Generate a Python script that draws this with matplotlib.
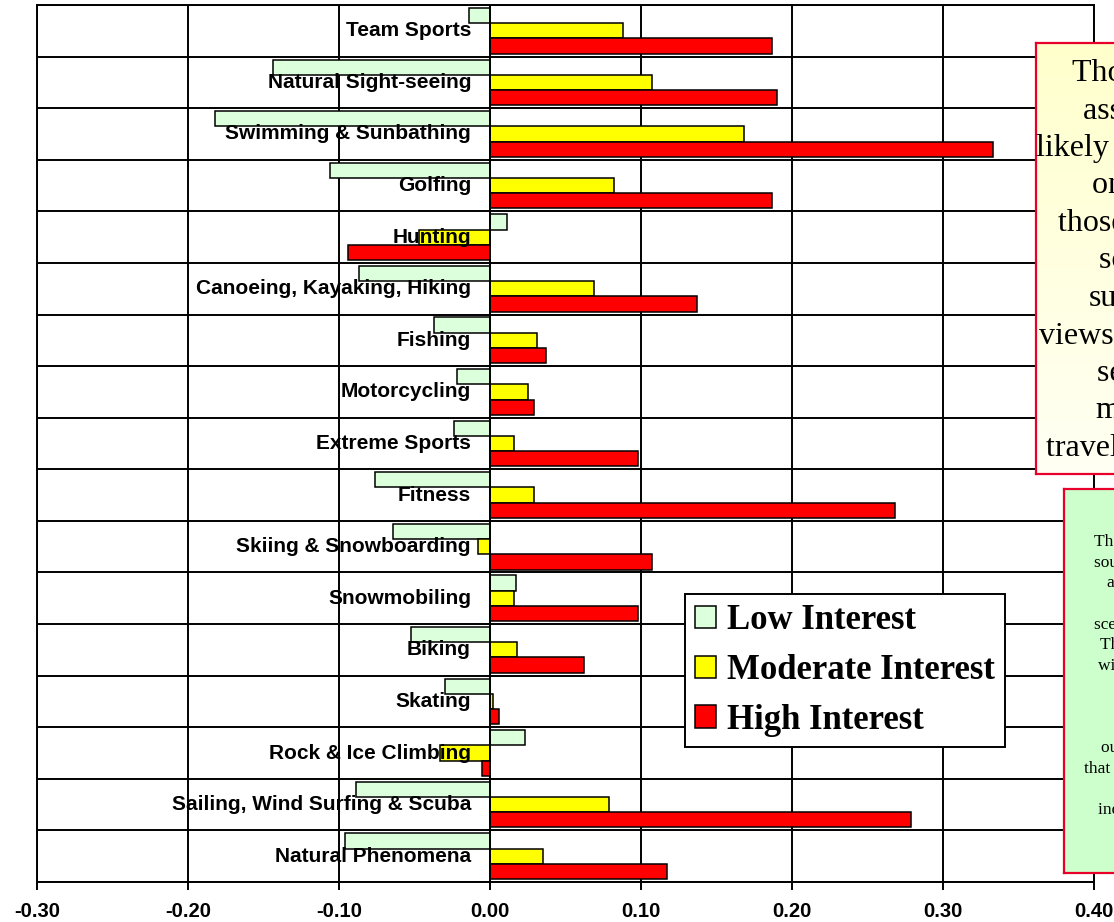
import numpy as np
import matplotlib
matplotlib.use("Agg")
import matplotlib.pyplot as plt
from matplotlib.patches import Patch
from matplotlib.colors import LinearSegmentedColormap

# Interest scores by activity (top to bottom)
activities = [
    "Team Sports", "Natural Sight-seeing", "Swimming & Sunbathing", "Golfing",
    "Hunting", "Canoeing, Kayaking, Hiking", "Fishing", "Motorcycling",
    "Extreme Sports", "Fitness", "Skiing & Snowboarding", "Snowmobiling",
    "Biking", "Skating", "Rock & Ice Climbing", "Sailing, Wind Surfing & Scuba",
    "Natural Phenomena",
]
low_interest = [-0.014, -0.144, -0.182, -0.106, 0.011, -0.087, -0.037, -0.022,
                -0.024, -0.076, -0.064, 0.017, -0.052, -0.030, 0.023, -0.089, -0.096]
moderate_interest = [0.088, 0.107, 0.168, 0.082, -0.047, 0.069, 0.031, 0.025,
                     0.016, 0.029, -0.008, 0.016, 0.018, 0.002, -0.033, 0.079, 0.035]
high_interest = [0.187, 0.190, 0.333, 0.187, -0.094, 0.137, 0.037, 0.029,
                 0.098, 0.268, 0.1075, 0.098, 0.062, 0.006, -0.005, 0.279, 0.117]
series_names = ["Low Interest", "Moderate Interest", "High Interest"]
series_colors = ["#dcffdc", "#ffff00", "#ff0000"]
x_ticks = [-0.30, -0.20, -0.10, 0.00, 0.10, 0.20, 0.30, 0.40]

note_top = ("Those who are\nassessed as a\nlikely to travel often\non vacation\n"
            "those who prefer\nscenic and\nsurrounding\nviews of the natural\n"
            "settings, to\nmore often\ntravel for pleasure.")
note_bottom = ("The data used in the\nsources listed below\na factor analysis\nof the\n"
               "scenic value of each\nThe bars represent\nwith which each of\nthe interest\n"
               "groups relate\nto each\nour findings show\nthat these activities are\n"
               "strongly\nindicators of travel")

W, H = 1114, 922
RED_EDGE = "#e8002a"


def px_rect(x0, y0, x1, y1):
    # pixel box measured from the top-left corner -> figure fraction rect
    return [x0 / W, 1 - y1 / H, (x1 - x0) / W, (y1 - y0) / H]


def main():
    fig = plt.figure(figsize=(W / 100, H / 100), dpi=100)
    ax = fig.add_axes(px_rect(37, 5, 1094, 882))

    y = np.arange(len(activities))
    h = 0.295
    for k, (vals, color) in enumerate(zip([low_interest, moderate_interest, high_interest],
                                          series_colors)):
        ax.barh(y + (k - 1) * h, vals, height=h, color=color, edgecolor="black",
                linewidth=1.1, zorder=3)

    # category labels sit beside the zero axis
    for i, name in enumerate(activities):
        ax.annotate(name, xy=(0, i), xytext=(-19, 0), textcoords="offset pixels",
                    ha="right", va="center", fontsize=15, fontweight="bold",
                    family="Liberation Sans", zorder=5)

    ax.axvline(0, color="black", lw=1.4, zorder=4)
    ax.set_xlim(-0.30, 0.40)
    ax.set_ylim(len(activities) - 0.5, -0.5)
    ax.set_xticks(x_ticks)
    ax.set_xticklabels([f"{t:.2f}" for t in x_ticks], fontsize=14.6, fontweight="bold",
                       family="Liberation Sans")
    ax.set_yticks(np.arange(len(activities) + 1) - 0.5)
    ax.tick_params(axis="y", length=0, labelleft=False)
    ax.tick_params(axis="x", direction="out", length=6, width=1.4, pad=8.5)
    ax.grid(True, color="black", lw=1.4, zorder=1)
    ax.set_axisbelow(True)
    for sp in ax.spines.values():
        sp.set_linewidth(1.4)
        sp.set_color("black")

    handles = [Patch(facecolor=c, edgecolor="black", linewidth=1.1) for c in series_colors]
    leg = fig.legend(handles, series_names, loc="upper left",
                     bbox_to_anchor=(685 / W, 1 - 594 / H), bbox_transform=fig.transFigure,
                     prop=dict(family="Liberation Serif", weight="bold", size=25),
                     frameon=True, fancybox=False, edgecolor="black", framealpha=1,
                     borderpad=0.3, handlelength=0.6, handleheight=0.6,
                     handletextpad=0.3, labelspacing=0.48, borderaxespad=0)
    leg.get_frame().set_linewidth(1.4)

    # note boxes on the right
    top_ax = fig.add_axes(px_rect(1036, 43, 1290, 474))
    grad = np.linspace(0, 1, 256).reshape(-1, 1)
    cmap = LinearSegmentedColormap.from_list("note", ["#ffffcc", "#fffff4"])
    top_ax.imshow(grad, aspect="auto", cmap=cmap, extent=[0, 1, 0, 1])
    bot_ax = fig.add_axes(px_rect(1064, 489, 1290, 873))
    bot_ax.set_facecolor("#ccffcc")
    for nax in (top_ax, bot_ax):
        nax.set_xticks([])
        nax.set_yticks([])
        nax.set_xlim(0, 1)
        nax.set_ylim(0, 1)
        for sp in nax.spines.values():
            sp.set_color(RED_EDGE)
            sp.set_linewidth(1.6)

    fig.text(1166 / W, 1 - 261 / H, note_top, ha="center", va="center",
             multialignment="center", family="Liberation Serif", fontsize=23,
             linespacing=1.38)
    fig.text(1164 / W, 1 - 676 / H, note_bottom, ha="center", va="center",
             multialignment="center", family="Liberation Serif", fontsize=12.5,
             linespacing=1.38)

    fig.savefig("out.png", dpi=100)


if __name__ == "__main__":
    main()
